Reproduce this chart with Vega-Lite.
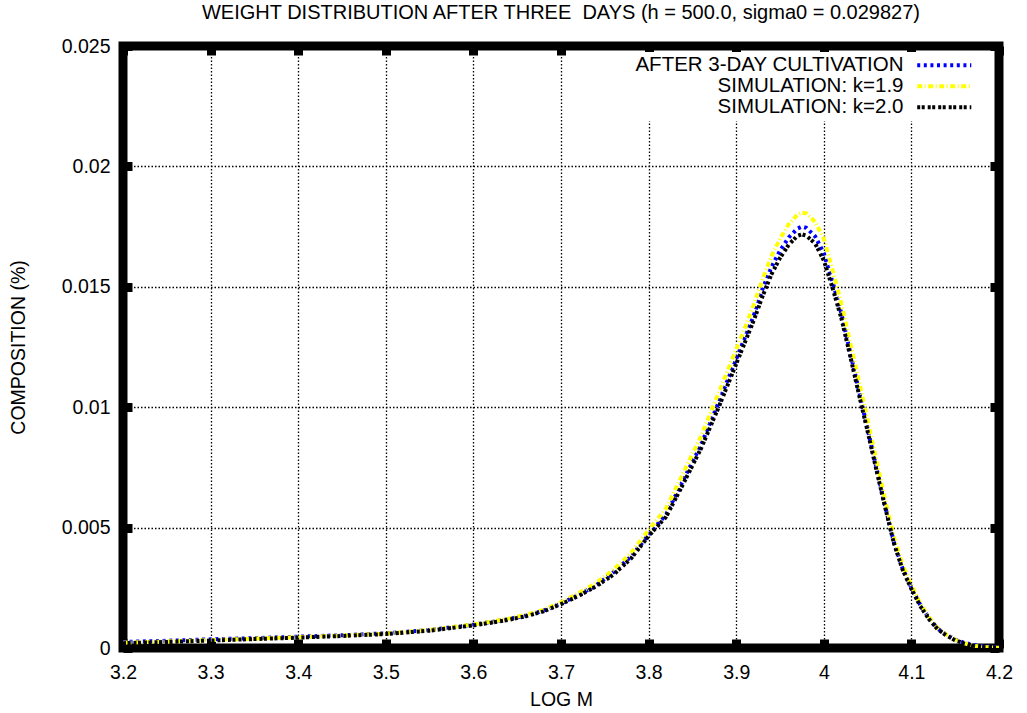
{
  "$schema": "https://vega.github.io/schema/vega-lite/v6.json",
  "autosize": {"type": "none"},
  "padding": {"left": 123, "top": 46, "right": 28, "bottom": 65},
  "width": 876,
  "height": 602,
  "background": "white",
  "title": {
    "text": "WEIGHT DISTRIBUTION AFTER THREE\u00a0 DAYS (h = 500.0, sigma0 = 0.029827)",
    "fontSize": 20,
    "fontWeight": "normal",
    "font": "Liberation Sans",
    "color": "black",
    "anchor": "middle",
    "baseline": "alphabetic",
    "offset": -3
  },
  "config": {
    "font": "Liberation Sans",
    "view": {"stroke": "black", "strokeWidth": 9},
    "axis": {
      "domain": false,
      "labelColor": "black",
      "titleColor": "black",
      "labelFont": "Liberation Sans",
      "titleFont": "Liberation Sans",
      "labelFontSize": 19.5,
      "titleFontSize": 19.5,
      "titleFontWeight": "normal",
      "labelFlush": false,
      "tickColor": "black",
      "tickWidth": 9,
      "tickSize": -9,
      "gridColor": "black",
      "gridDash": [1.5, 2],
      "gridWidth": 1.3,
      "gridOpacity": 1
    }
  },
  "data": {
    "values": [
      {"m": 3.20, "a": 0.00025, "b": 0.00022, "c": 0.00020},
      {"m": 3.25, "a": 0.00030, "b": 0.00027, "c": 0.00025},
      {"m": 3.30, "a": 0.00036, "b": 0.00033, "c": 0.00031},
      {"m": 3.35, "a": 0.00041, "b": 0.00039, "c": 0.00037},
      {"m": 3.40, "a": 0.00047, "b": 0.00045, "c": 0.00043},
      {"m": 3.45, "a": 0.00053, "b": 0.00052, "c": 0.00050},
      {"m": 3.50, "a": 0.00061, "b": 0.00060, "c": 0.00058},
      {"m": 3.55, "a": 0.00075, "b": 0.00075, "c": 0.00072},
      {"m": 3.60, "a": 0.00097, "b": 0.00098, "c": 0.00094},
      {"m": 3.62, "a": 0.00108, "b": 0.00109, "c": 0.00105},
      {"m": 3.64, "a": 0.00120, "b": 0.00122, "c": 0.00117},
      {"m": 3.66, "a": 0.00135, "b": 0.00138, "c": 0.00132},
      {"m": 3.68, "a": 0.00155, "b": 0.00158, "c": 0.00152},
      {"m": 3.70, "a": 0.00185, "b": 0.00190, "c": 0.00182},
      {"m": 3.72, "a": 0.00220, "b": 0.00227, "c": 0.00216},
      {"m": 3.74, "a": 0.00260, "b": 0.00270, "c": 0.00256},
      {"m": 3.76, "a": 0.00315, "b": 0.00325, "c": 0.00305},
      {"m": 3.78, "a": 0.00380, "b": 0.00395, "c": 0.00372},
      {"m": 3.80, "a": 0.00470, "b": 0.00490, "c": 0.00465},
      {"m": 3.82, "a": 0.00555, "b": 0.00580, "c": 0.00545},
      {"m": 3.84, "a": 0.00700, "b": 0.00730, "c": 0.00685},
      {"m": 3.86, "a": 0.00845, "b": 0.00880, "c": 0.00830},
      {"m": 3.88, "a": 0.01020, "b": 0.01060, "c": 0.01000},
      {"m": 3.89, "a": 0.01110, "b": 0.01150, "c": 0.01090},
      {"m": 3.90, "a": 0.01200, "b": 0.01240, "c": 0.01180},
      {"m": 3.91, "a": 0.01290, "b": 0.01330, "c": 0.01270},
      {"m": 3.92, "a": 0.01380, "b": 0.01425, "c": 0.01360},
      {"m": 3.93, "a": 0.01490, "b": 0.01530, "c": 0.01460},
      {"m": 3.94, "a": 0.01580, "b": 0.01625, "c": 0.01550},
      {"m": 3.95, "a": 0.01650, "b": 0.01700, "c": 0.01620},
      {"m": 3.96, "a": 0.01705, "b": 0.01760, "c": 0.01675},
      {"m": 3.97, "a": 0.01742, "b": 0.01800, "c": 0.01712},
      {"m": 3.975, "a": 0.01750, "b": 0.01808, "c": 0.01718},
      {"m": 3.98, "a": 0.01745, "b": 0.01805, "c": 0.01712},
      {"m": 3.99, "a": 0.01710, "b": 0.01770, "c": 0.01680},
      {"m": 4.00, "a": 0.01640, "b": 0.01700, "c": 0.01610},
      {"m": 4.01, "a": 0.01520, "b": 0.01570, "c": 0.01495},
      {"m": 4.02, "a": 0.01390, "b": 0.01430, "c": 0.01370},
      {"m": 4.03, "a": 0.01230, "b": 0.01270, "c": 0.01215},
      {"m": 4.04, "a": 0.01070, "b": 0.01110, "c": 0.01055},
      {"m": 4.05, "a": 0.00910, "b": 0.00945, "c": 0.00900},
      {"m": 4.06, "a": 0.00750, "b": 0.00780, "c": 0.00740},
      {"m": 4.07, "a": 0.00590, "b": 0.00615, "c": 0.00585},
      {"m": 4.08, "a": 0.00440, "b": 0.00460, "c": 0.00435},
      {"m": 4.09, "a": 0.00330, "b": 0.00345, "c": 0.00325},
      {"m": 4.10, "a": 0.00250, "b": 0.00260, "c": 0.00245},
      {"m": 4.11, "a": 0.00180, "b": 0.00185, "c": 0.00175},
      {"m": 4.12, "a": 0.00125, "b": 0.00128, "c": 0.00120},
      {"m": 4.13, "a": 0.00080, "b": 0.00082, "c": 0.00078},
      {"m": 4.14, "a": 0.00055, "b": 0.00055, "c": 0.00052},
      {"m": 4.15, "a": 0.00035, "b": 0.00034, "c": 0.00032},
      {"m": 4.16, "a": 0.00022, "b": 0.00020, "c": 0.00019},
      {"m": 4.17, "a": 0.00013, "b": 0.00010, "c": 0.00010},
      {"m": 4.18, "a": 0.00008, "b": 0.00005, "c": 0.00005},
      {"m": 4.19, "a": 0.00005, "b": 0.00002, "c": 0.00002},
      {"m": 4.20, "a": 0.00003, "b": 0.00001, "c": 0.00001}
    ]
  },
  "transform": [{"fold": ["a", "b", "c"], "as": ["s", "v"]}],
  "layer": [
    {
      "mark": {"type": "line", "strokeWidth": 4, "clip": true},
      "encoding": {
        "x": {
          "field": "m", "type": "quantitative",
          "scale": {"domain": [3.2, 4.2], "nice": false, "zero": false},
          "axis": {
            "orient": "bottom",
            "values": [3.2, 3.3, 3.4, 3.5, 3.6, 3.7, 3.8, 3.9, 4.0, 4.1, 4.2],
            "format": "~g",
            "grid": true,
            "labelPadding": 24.5,
            "title": "LOG M",
            "titlePadding": 8
          }
        },
        "y": {
          "field": "v", "type": "quantitative",
          "scale": {"domain": [0, 0.025], "nice": false, "zero": false},
          "axis": {
            "orient": "left",
            "values": [0, 0.005, 0.01, 0.015, 0.02, 0.025],
            "format": "~g",
            "grid": true,
            "labelPadding": 22,
            "title": "COMPOSITION (%)",
            "titlePadding": 33
          }
        },
        "color": {
          "field": "s", "type": "nominal",
          "scale": {"domain": ["a", "b", "c"], "range": ["#0000ff", "#ffff00", "#000000"]},
          "legend": {
            "title": null,
            "orient": "none",
            "legendX": 505,
            "legendY": 6,
            "padding": 3,
            "fillColor": "white",
            "symbolType": "M-5,0H5",
            "symbolSize": 117,
            "symbolStrokeWidth": 4,
            "symbolOffset": 303,
            "labelFont": "Liberation Sans",
            "labelFontSize": 20.5,
            "labelColor": "black",
            "labelAlign": "right",
            "labelOffset": -51,
            "labelLimit": 400,
            "rowPadding": 0,
            "labelExpr": "datum.label == 'a' ? 'AFTER 3-DAY CULTIVATION' : datum.label == 'b' ? 'SIMULATION: k=1.9' : 'SIMULATION: k=2.0'"
          }
        },
        "strokeDash": {
          "field": "s", "type": "nominal",
          "scale": {"domain": ["a", "b", "c"], "range": [[3, 3.6], [5, 2.5, 1, 2.5], [3, 1.5, 3, 3]]},
          "legend": {
            "title": null,
            "orient": "none",
            "legendX": 505,
            "legendY": 6,
            "padding": 3,
            "fillColor": "white",
            "symbolType": "M-5,0H5",
            "symbolSize": 117,
            "symbolStrokeWidth": 4,
            "symbolOffset": 303,
            "labelFont": "Liberation Sans",
            "labelFontSize": 20.5,
            "labelColor": "black",
            "labelAlign": "right",
            "labelOffset": -51,
            "labelLimit": 400,
            "rowPadding": 0,
            "labelExpr": "datum.label == 'a' ? 'AFTER 3-DAY CULTIVATION' : datum.label == 'b' ? 'SIMULATION: k=1.9' : 'SIMULATION: k=2.0'"
          }
        }
      }
    },
    {
      "mark": {"type": "line", "opacity": 0},
      "encoding": {
        "x": {
          "field": "m", "type": "quantitative",
          "scale": {"domain": [3.2, 4.2], "nice": false, "zero": false},
          "axis": {
            "orient": "top",
            "values": [3.2, 3.3, 3.4, 3.5, 3.6, 3.7, 3.8, 3.9, 4.0, 4.1, 4.2],
            "labels": false,
            "grid": false,
            "title": null
          }
        },
        "y": {
          "field": "v", "type": "quantitative",
          "scale": {"domain": [0, 0.025], "nice": false, "zero": false},
          "axis": {
            "orient": "right",
            "values": [0, 0.005, 0.01, 0.015, 0.02, 0.025],
            "labels": false,
            "grid": false,
            "title": null
          }
        }
      }
    }
  ],
  "resolve": {"axis": {"x": "independent", "y": "independent"}}
}
